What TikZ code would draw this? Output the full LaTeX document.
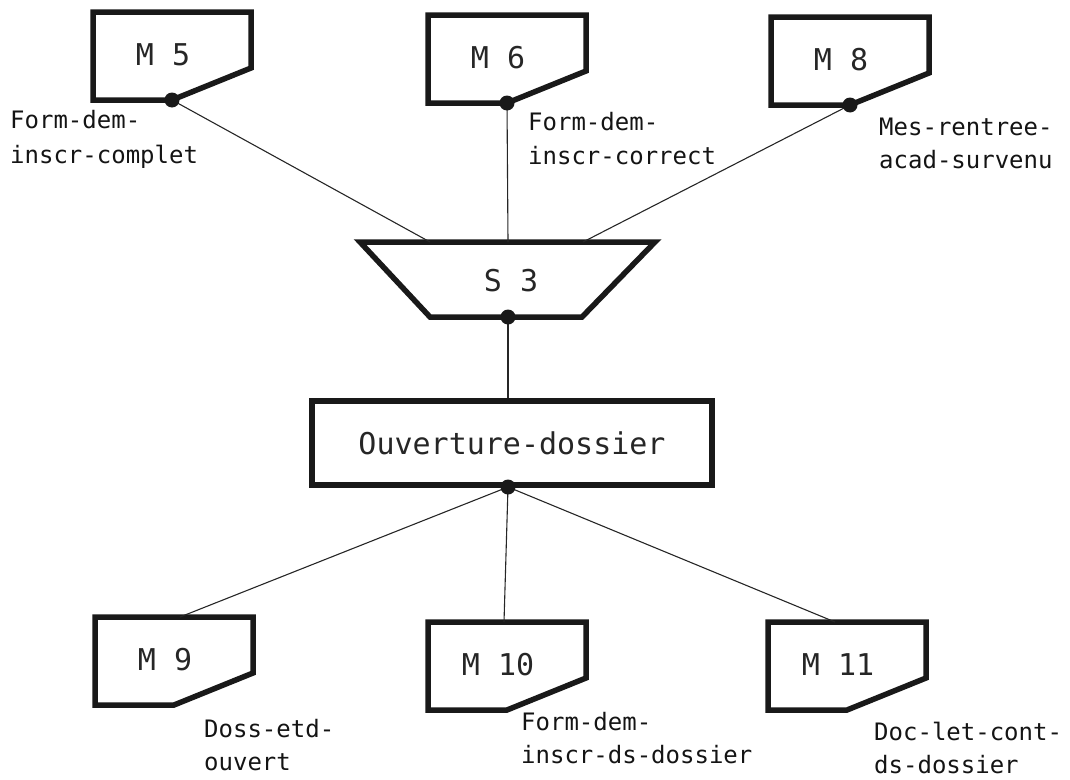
\documentclass[tikz,border=0pt]{standalone}
\usepackage{fontspec}
\newfontfamily\plotfont{DejaVu Sans Mono}
\newfontfamily\plotbig{DejaVu Sans Mono}
\begin{document}
\begin{tikzpicture}[x=1pt,y=-1pt,
  heavy/.style={line width=5.5pt,line join=miter,draw=black!90},
  link/.style={line width=1.1pt,draw=black!85},
  junction/.style={circle,fill=black!90,inner sep=0pt,minimum size=15pt},
  msgtext/.style={font=\plotbig\fontsize{30}{34}\selectfont,text=black!85,inner sep=0pt},
  caption/.style={font=\plotfont\fontsize{24}{33}\selectfont,text=black!92,inner sep=0pt,anchor=base west},
  pics/docshape/.style={code={
    \draw[heavy] (0,0) -- (158,0) -- (158,56) -- (79,88) -- (0,88) -- cycle;
    \coordinate (-tip) at (79,88);
    \node[msgtext] (-lbl) at (70,43) {#1};
  }}]
\useasboundingbox (0,0) rectangle (1070,779);

% message documents, upper row
\pic (m5) at (93,12) {docshape={M 5}};
\pic (m6) at (428,15) {docshape={M 6}};
\pic (m8) at (771,17) {docshape={M 8}};

% message documents, lower row
\pic (m9) at (95,617) {docshape={M 9}};
\pic (m10) at (428,622) {docshape={M 10}};
\pic (m11) at (768,622) {docshape={M 11}};

% synchronisation trapezium S3
\coordinate (s3tl) at (360,242);
\coordinate (s3tr) at (655,242);
\coordinate (s3br) at (582,317);
\coordinate (s3bl) at (430,317);
\draw[heavy] (s3tl) -- (s3tr) -- (s3br) -- (s3bl) -- cycle;
\node[msgtext] (s3) at (511,281) {S 3};
\coordinate (s3in1) at (430,242);
\coordinate (s3in2) at (508,242);
\coordinate (s3in3) at (583,242);
\coordinate (s3out) at (508,317);

% process box
\node[draw=black!90,line width=5.5pt,minimum width=400pt,minimum height=84pt,
      msgtext,inner sep=0pt] (ouv) at (512,443) {Ouverture-dossier};
\coordinate (ouvout) at (508,487);

% connectors
\draw[link] (m5-tip) -- (s3in1);
\draw[link] (m6-tip) -- (s3in2);
\draw[link] (m8-tip) -- (s3in3);
\draw[link] (s3out) -- (ouv.north -| s3out);
\coordinate (m9in) at (180,617);
\coordinate (m10in) at (504,622);
\coordinate (m11in) at (835,622);
\draw[link] (ouvout) -- (m9in);
\draw[link] (ouvout) -- (m10in);
\draw[link] (ouvout) -- (m11in);

% junction dots
\node[junction] (d5) at (m5-tip) {};
\node[junction] (d6) at (m6-tip) {};
\node[junction] (d8) at (m8-tip) {};
\node[junction] (ds3) at (s3out) {};
\node[junction] (douv) at (ouvout) {};

% message names
\node[caption] (l5a) at (10,128) {Form-dem-};
\node[caption] (l5b) at (10,163) {inscr-complet};
\node[caption] (l6a) at (528,130) {Form-dem-};
\node[caption] (l6b) at (528,164) {inscr-correct};
\node[caption] (l8a) at (879,135) {Mes-rentree-};
\node[caption] (l8b) at (879,168) {acad-survenu};
\node[caption] (l9a) at (204,737) {Doss-etd-};
\node[caption] (l9b) at (204,770) {ouvert};
\node[caption] (l10a) at (521,730) {Form-dem-};
\node[caption] (l10b) at (521,763) {inscr-ds-dossier};
\node[caption] (l11a) at (874,740) {Doc-let-cont-};
\node[caption] (l11b) at (874,773) {ds-dossier};
\end{tikzpicture}
\end{document}
